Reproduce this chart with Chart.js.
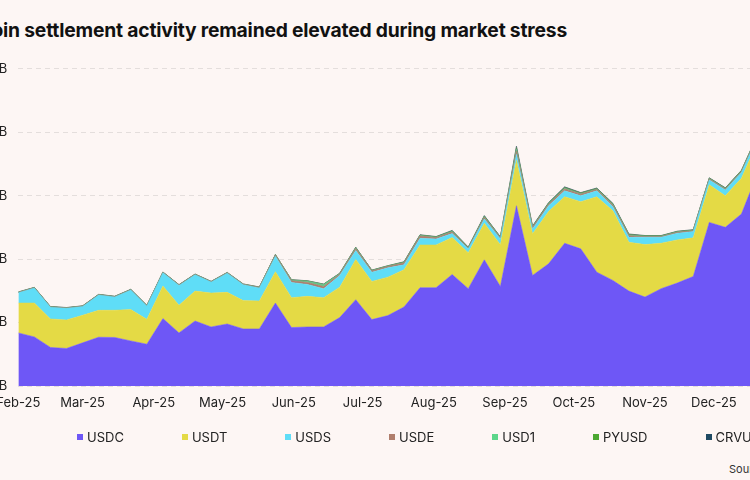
<!DOCTYPE html>
<html lang="en">
<head>
<meta charset="UTF-8">
<title>Stablecoin settlement activity</title>
<script src="https://cdn.jsdelivr.net/npm/chart.js"></script>
<style>
  html, body { margin: 0; padding: 0; }
  body {
    width: 750px; height: 480px; overflow: hidden; position: relative;
    background: #FDF6F4; font-family: Inter, "Noto Sans", sans-serif; color: #1a1a1a;
  }
  .title {
    position: absolute; right: 183px; top: 18px; line-height: 24px;
    white-space: nowrap; font-size: 19.3px; font-weight: 700; letter-spacing: -0.2px; color: #111;
  }
  .chart-box { position: absolute; left: -60px; top: 50px; width: 850px; height: 380px; }
  .legend {
    position: absolute; left: 77px; top: 429px; display: flex;
    white-space: nowrap; font-size: 13px; line-height: 16px; color: #222;
  }
  .legend-item { display: flex; align-items: center; margin-right: 58px; }
  .legend-item i { display: inline-block; width: 6px; height: 6px; margin-right: 4px; }
  .source { position: absolute; left: 729px; top: 462px; font-size: 11px; white-space: nowrap; color: #333; }
</style>
</head>
<body>

<div class="title">Stablecoin settlement activity remained elevated during market stress</div>
<div class="chart-box"><canvas id="settleChart"></canvas></div>
<div class="legend" id="legend"></div>
<div class="source">Source: Visa Onchain Analytics</div>

<script>
// weekly points
const weeks = [
  '2025-02-01','2025-02-08','2025-02-15','2025-02-22','2025-03-01','2025-03-08','2025-03-15','2025-03-22',
  '2025-03-29','2025-04-05','2025-04-12','2025-04-19','2025-04-26','2025-05-03','2025-05-10','2025-05-17',
  '2025-05-24','2025-05-31','2025-06-07','2025-06-14','2025-06-21','2025-06-28','2025-07-05','2025-07-12',
  '2025-07-19','2025-07-26','2025-08-02','2025-08-09','2025-08-16','2025-08-23','2025-08-30','2025-09-06',
  '2025-09-13','2025-09-20','2025-09-27','2025-10-04','2025-10-11','2025-10-18','2025-10-25','2025-11-01',
  '2025-11-08','2025-11-15','2025-11-22','2025-11-29','2025-12-06','2025-12-13','2025-12-20'
];
const monthStarts = ['2025-02-01','2025-03-01','2025-04-01','2025-05-01','2025-06-01','2025-07-01',
  '2025-08-01','2025-09-01','2025-10-01','2025-11-01','2025-12-01'];
const monthLabels = ['Feb-25','Mar-25','Apr-25','May-25','Jun-25','Jul-25','Aug-25','Sep-25','Oct-25','Nov-25','Dec-25'];
const yTicks = [0, 10, 20, 30, 40, 50];

// $B per week
const usdc = [8.37, 7.74, 6.08, 5.92, 6.80, 7.69, 7.65, 7.11, 6.59, 10.63, 8.37, 10.25, 9.31, 9.78, 9.00, 9.00,
  13.08, 9.22, 9.31, 9.31, 10.78, 13.61, 10.47, 11.10, 12.45, 15.49, 15.49, 17.58, 15.34, 19.89, 15.70, 28.41,
  17.43, 19.26, 22.50, 21.62, 17.94, 16.64, 14.96, 14.02, 15.34, 16.22, 17.27, 25.79, 25.01, 27.11, 33.50];
const usdt = [4.71, 5.34, 4.49, 4.49, 4.35, 4.24, 4.29, 4.93, 3.92, 5.12, 4.35, 4.71, 5.34, 4.98, 4.46, 4.40,
  4.93, 4.71, 4.82, 4.62, 4.80, 6.33, 6.01, 6.06, 5.87, 6.75, 6.75, 5.81, 5.65, 5.75, 6.55, 7.17,
  6.55, 8.26, 7.33, 7.43, 11.88, 10.99, 7.69, 8.27, 7.16, 6.81, 6.08, 5.92, 4.98, 5.65, 4.95];
const usds = [1.63, 2.35, 1.84, 1.84, 1.37, 2.40, 2.09, 3.08, 2.09, 2.10, 3.14, 2.57, 1.73, 3.03, 2.51, 2.04,
  2.45, 2.40, 1.88, 1.41, 1.84, 1.41, 1.46, 1.48, 0.78, 1.04, 0.94, 0.63, 0.63, 0.69, 0.94, 0.94,
  0.78, 0.89, 0.94, 0.94, 0.94, 0.63, 0.78, 1.15, 0.94, 1.04, 0.99, 0.78, 0.89, 0.88, 0.80];
const usde = [0.05, 0.05, 0.05, 0.05, 0.05, 0.05, 0.05, 0.05, 0.05, 0.05, 0.05, 0.05, 0.05, 0.05, 0.05, 0.10,
  0.15, 0.25, 0.30, 0.35, 0.20, 0.30, 0.20, 0.20, 0.30, 0.35, 0.20, 0.25, 0.10, 0.25, 0.15, 0.50,
  0.25, 0.25, 0.30, 0.25, 0.20, 0.25, 0.25, 0.10, 0.10, 0.15, 0.12, 0.15, 0.15, 0.15, 0.15];
const usd1 = [0, 0, 0, 0, 0, 0, 0, 0, 0, 0, 0, 0, 0, 0, 0, 0,
  0.05, 0.10, 0.20, 0.30, 0.08, 0.10, 0.05, 0.05, 0.05, 0.08, 0.05, 0.08, 0.05, 0.10, 0.05, 0.30,
  0.05, 0.05, 0.10, 0.05, 0.05, 0.10, 0.10, 0.05, 0.05, 0.05, 0.05, 0.05, 0.08, 0.08, 0.08];
const pyusd = [0.04, 0.04, 0.04, 0.04, 0.04, 0.04, 0.04, 0.04, 0.04, 0.04, 0.04, 0.04, 0.04, 0.04, 0.04, 0.04,
  0.04, 0.05, 0.05, 0.05, 0.05, 0.08, 0.05, 0.05, 0.08, 0.08, 0.08, 0.10, 0.08, 0.10, 0.08, 0.25,
  0.08, 0.12, 0.12, 0.12, 0.12, 0.10, 0.10, 0.08, 0.08, 0.08, 0.08, 0.08, 0.08, 0.08, 0.08];
const crvusd = [0.03, 0.03, 0.03, 0.03, 0.03, 0.03, 0.03, 0.03, 0.03, 0.03, 0.03, 0.03, 0.03, 0.03, 0.03, 0.03,
  0.03, 0.03, 0.03, 0.03, 0.03, 0.05, 0.03, 0.03, 0.05, 0.05, 0.05, 0.08, 0.05, 0.08, 0.05, 0.25,
  0.08, 0.08, 0.10, 0.08, 0.08, 0.08, 0.08, 0.05, 0.05, 0.05, 0.05, 0.05, 0.05, 0.05, 0.05];

const seriesNames = ['USDC', 'USDT', 'USDS', 'USDE', 'USD1', 'PYUSD', 'CRVUSD'];
const seriesValues = [usdc, usdt, usds, usde, usd1, pyusd, crvusd];
const seriesColors = ['#6E57F6', '#E4DA45', '#5FDDF7', '#B07E6C', '#5CD68A', '#4CA832', '#1F4A63'];
const edgeColors = ['#6E57F6', '#E4DA45', '#5FDDF7', '#A88272', '#6FB88A', '#5E8F56', '#56707A'];

const dayOf = s => (Date.parse(s) - Date.parse(weeks[0])) / 864e5;
const monthDays = monthStarts.map(dayOf);

const datasets = seriesNames.map((name, i) => ({
  label: name,
  data: seriesValues[i].map((v, k) => ({ x: dayOf(weeks[k]), y: v })),
  backgroundColor: seriesColors[i],
  borderColor: edgeColors[i],
  borderWidth: i > 2 ? 0.8 : 0.5,
  pointRadius: 0,
  tension: 0,
  fill: i === 0 ? 'origin' : '-1'
}));

const tickFont = { family: 'Inter', size: 13 };

new Chart(document.getElementById('settleChart'), {
  type: 'line',
  data: { datasets },
  options: {
    responsive: true,
    maintainAspectRatio: false,
    animation: false,
    layout: { padding: { top: 17.7, right: 32.5, bottom: 14, left: 0 } },
    plugins: { legend: { display: false }, tooltip: { enabled: false } },
    scales: {
      x: {
        type: 'linear',
        min: 0,
        max: dayOf(weeks[weeks.length - 1]),
        afterBuildTicks: s => { s.ticks = monthDays.map(v => ({ value: v })); },
        afterFit: s => { s.height = 30; },
        grid: { display: false, drawTicks: false },
        border: { display: false },
        ticks: {
          autoSkip: false, maxRotation: 0, padding: 9, color: '#222', font: tickFont,
          callback: v => monthLabels[monthDays.indexOf(v)]
        }
      },
      y: {
        stacked: true,
        min: yTicks[0],
        max: yTicks[yTicks.length - 1],
        afterBuildTicks: s => { s.ticks = yTicks.map(v => ({ value: v })); },
        afterFit: s => { s.width = 78.3; },
        grid: { color: '#E4DEDC', drawTicks: false },
        border: { display: false, dash: [5, 4] },
        ticks: { padding: 11, color: '#222', font: tickFont, callback: v => '$' + v + 'B' }
      }
    }
  }
});

// legend row
const legend = document.getElementById('legend');
seriesNames.forEach((name, i) => {
  const item = document.createElement('span');
  item.className = 'legend-item';
  item.innerHTML = '<i style="background:' + seriesColors[i] + '"></i>' + name;
  legend.appendChild(item);
});
</script>
</body>
</html>
